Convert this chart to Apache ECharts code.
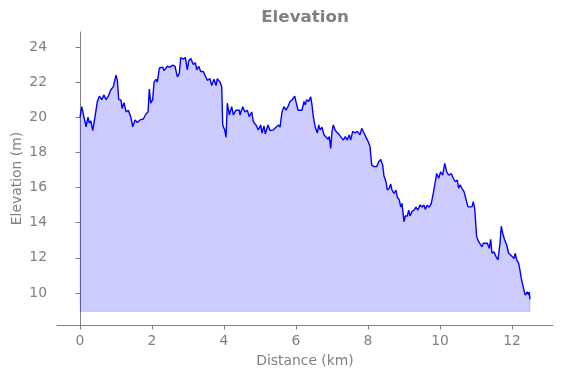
<!DOCTYPE html>
<html>
<head>
<meta charset="utf-8">
<title>Elevation</title>
<script src="https://cdn.jsdelivr.net/npm/echarts@6/dist/echarts.min.js"></script>
<style>
  html, body { margin: 0; padding: 0; background: #fff; }
  #chart { width: 563px; height: 378px; }
</style>
</head>
<body>
<div id="chart"></div>
<script>
// elevation profile, values
const distanceKm = [
  0.000, 0.047, 0.167, 0.222, 0.258, 0.297, 0.353, 0.417, 0.481, 0.536,
  0.603, 0.667, 0.722, 0.786, 0.853, 0.925, 1.000, 1.036, 1.075, 1.139,
  1.167, 1.222, 1.278, 1.342, 1.408, 1.464, 1.528, 1.592, 1.667, 1.758,
  1.833, 1.889, 1.925, 1.964, 2.019, 2.056, 2.111, 2.147, 2.203, 2.297,
  2.333, 2.425, 2.500, 2.575, 2.639, 2.703, 2.758, 2.797, 2.869, 2.925,
  2.981, 3.019, 3.075, 3.147, 3.203, 3.242, 3.297, 3.353, 3.425, 3.481,
  3.536, 3.611, 3.658, 3.722, 3.778, 3.814, 3.889, 3.936, 3.964, 4.019,
  4.056, 4.092, 4.147, 4.214, 4.258, 4.333, 4.425, 4.444, 4.519, 4.583,
  4.647, 4.703, 4.769, 4.814, 4.889, 4.953, 5.019, 5.056, 5.111, 5.147,
  5.222, 5.278, 5.369, 5.444, 5.519, 5.556, 5.611, 5.667, 5.722, 5.778,
  5.833, 5.889, 5.964, 6.019, 6.056, 6.111, 6.167, 6.222, 6.258, 6.297,
  6.353, 6.408, 6.444, 6.481, 6.536, 6.592, 6.631, 6.667, 6.722, 6.778,
  6.833, 6.889, 6.925, 6.964, 7.000, 7.036, 7.092, 7.147, 7.203, 7.258,
  7.314, 7.369, 7.425, 7.481, 7.519, 7.575, 7.639, 7.703, 7.778, 7.825,
  7.889, 7.944, 8.008, 8.056, 8.103, 8.167, 8.242, 8.297, 8.353, 8.408,
  8.444, 8.500, 8.536, 8.592, 8.631, 8.667, 8.722, 8.778, 8.814, 8.869,
  8.908, 8.944, 9.000, 9.036, 9.092, 9.131, 9.167, 9.222, 9.278, 9.333,
  9.389, 9.444, 9.500, 9.556, 9.592, 9.647, 9.703, 9.758, 9.814, 9.869,
  9.908, 9.964, 10.019, 10.075, 10.131, 10.186, 10.242, 10.314, 10.369, 10.425,
  10.481, 10.519, 10.556, 10.611, 10.667, 10.722, 10.778, 10.833, 10.889, 10.925,
  10.964, 11.019, 11.075, 11.111, 11.167, 11.203, 11.258, 11.314, 11.369, 11.408,
  11.444, 11.500, 11.556, 11.611, 11.667, 11.703, 11.742, 11.797, 11.853, 11.908,
  11.964, 12.019, 12.056, 12.092, 12.131, 12.186, 12.222, 12.258, 12.297, 12.333,
  12.369, 12.425, 12.460, 12.480, 12.500
];
const elevationM = [
  20.00, 20.60, 19.46, 20.00, 19.66, 19.80, 19.24, 20.03, 20.90, 21.20,
  21.00, 21.27, 21.00, 21.20, 21.55, 21.74, 22.40, 22.10, 21.00, 20.98,
  20.50, 20.83, 20.30, 20.40, 20.03, 19.46, 19.85, 19.70, 19.85, 19.90,
  20.20, 20.30, 21.60, 20.80, 21.00, 22.00, 22.16, 22.00, 22.80, 22.85,
  22.65, 22.90, 22.85, 22.97, 22.90, 22.30, 22.50, 23.40, 23.30, 23.40,
  22.70, 23.20, 23.35, 23.00, 23.10, 22.70, 22.90, 22.60, 22.60, 22.35,
  22.10, 22.20, 21.80, 22.16, 21.80, 22.20, 22.00, 21.74, 19.56, 19.28,
  18.86, 20.80, 20.13, 20.60, 20.13, 20.40, 20.40, 20.13, 20.60, 20.30,
  20.40, 20.03, 20.30, 19.75, 19.56, 19.28, 19.56, 19.10, 19.50, 19.05,
  19.56, 19.24, 19.28, 19.43, 19.56, 19.43, 20.30, 20.60, 20.40, 20.60,
  20.90, 20.98, 21.20, 21.20, 20.40, 20.50, 20.40, 20.90, 20.70, 21.00,
  20.90, 21.17, 20.70, 20.03, 19.43, 19.10, 19.56, 19.28, 19.43, 19.00,
  18.90, 18.75, 18.90, 18.23, 19.20, 19.56, 19.24, 19.28, 19.00, 18.90,
  18.70, 18.90, 18.70, 19.00, 18.70, 19.20, 19.10, 19.20, 19.00, 19.37,
  19.10, 19.20, 18.60, 18.33, 17.28, 17.19, 17.19, 17.47, 17.60, 17.28,
  16.66, 16.33, 15.86, 15.96, 16.20, 15.86, 15.67, 15.86, 15.45, 15.30,
  14.90, 15.10, 14.06, 14.38, 14.38, 14.72, 14.38, 14.63, 14.72, 14.88,
  14.72, 15.00, 14.90, 15.00, 14.76, 15.00, 14.88, 15.10, 15.67, 16.33,
  16.80, 16.53, 16.90, 16.70, 17.38, 16.90, 16.70, 16.80, 16.53, 16.33,
  16.43, 15.96, 16.15, 15.96, 15.77, 15.67, 14.90, 14.82, 14.90, 15.20,
  14.82, 13.20, 12.92, 13.00, 12.63, 12.83, 12.73, 12.83, 12.54, 13.05,
  12.26, 12.35, 12.07, 11.88, 12.83, 13.80, 13.40, 13.02, 12.73, 12.26,
  12.16, 12.07, 11.97, 12.26, 11.88, 11.69, 11.30, 10.83, 10.83, 10.17,
  9.88, 10.07, 9.88, 10.05, 9.64
];
const fillBase = 8.96;   // bottom of the shaded area
const xTicks = [0, 2, 4, 6, 8, 10, 12];
const yTicks = [10, 12, 14, 16, 18, 20, 22, 24];

const GREY = "#808080";
const FONT = "DejaVu Sans, sans-serif";

const profile = distanceKm.map((d, i) => [d, elevationM[i]]);
const last = distanceKm.length - 1;
// outline of the shaded polygon (left edge, bottom, right edge)
const fillEdge = [
  [distanceKm[0], elevationM[0]], [distanceKm[0], fillBase],
  [distanceKm[last], fillBase], [distanceKm[last], elevationM[last]],
];

const axisCommon = {
  type: "value",
  nameLocation: "middle",
  nameMoveOverlap: false,
  nameTextStyle: { fontFamily: FONT, fontSize: 13.9, color: GREY },
  axisLine: { show: true, lineStyle: { color: GREY, width: 1 } },
  splitLine: { show: false },
};

const chart = echarts.init(document.getElementById("chart"), null, { renderer: "canvas" });
chart.setOption({
  animation: false,
  textStyle: { fontFamily: FONT },
  title: {
    text: "Elevation", left: 305, top: 9, textAlign: "center", padding: 0,
    textStyle: { fontFamily: FONT, fontSize: 16.7, fontWeight: "bold", color: GREY },
  },
  grid: { left: 57, top: 32, width: 496, height: 293, containLabel: false, outerBoundsMode: "none" },
  xAxis: {
    ...axisCommon,
    name: "Distance (km)", nameGap: 29,
    min: -0.64, max: 13.14,
    axisTick: { show: true, inside: false, length: 4.5, lineStyle: { color: GREY }, customValues: xTicks },
    axisLabel: { fontFamily: FONT, fontSize: 13.9, color: GREY, margin: 9, customValues: xTicks },
  },
  yAxis: {
    ...axisCommon,
    name: "Elevation (m)", nameGap: 33,
    min: 8.18, max: 24.85,
    axisTick: { show: true, inside: false, length: 4.5, lineStyle: { color: GREY }, customValues: yTicks },
    axisLabel: { fontFamily: FONT, fontSize: 13.9, color: GREY, margin: 10, customValues: yTicks },
  },
  series: [
    {
      type: "line", data: profile, symbol: "none", silent: true, z: 2,
      lineStyle: { color: "#0000ff", width: 1.4 },
      areaStyle: { color: "rgba(0,0,255,0.2)", opacity: 1, origin: fillBase },
    },
    {
      type: "line", data: fillEdge, symbol: "none", silent: true, z: 1,
      lineStyle: { color: "rgba(0,0,255,0.2)", width: 1 },
    },
  ],
});
</script>
</body>
</html>
